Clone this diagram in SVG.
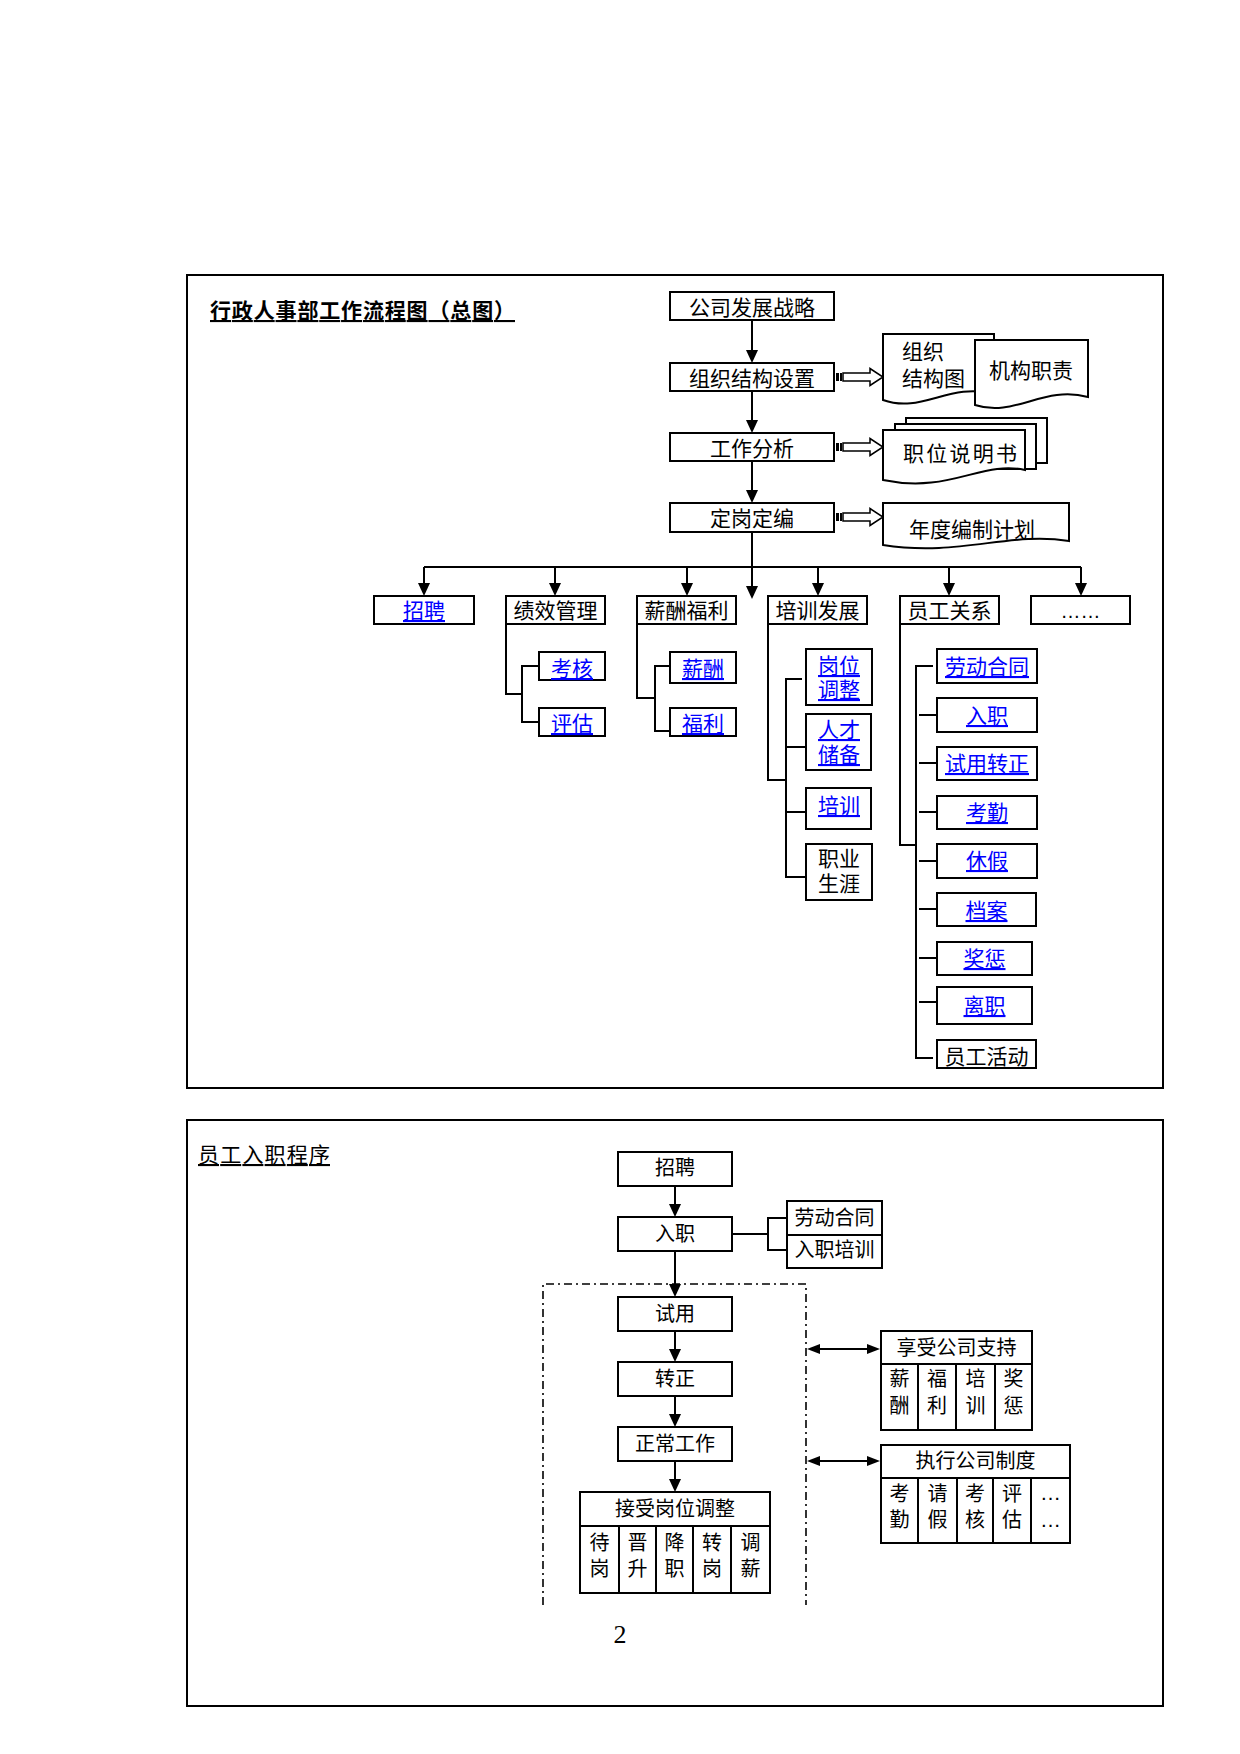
<svg xmlns="http://www.w3.org/2000/svg" width="1240" height="1754" viewBox="0 0 1240 1754">
<defs>
<style>
text{font-family:"Liberation Sans","Noto Sans CJK SC",sans-serif;font-size:21px;fill:#000}
.c{text-anchor:middle}
.s20{font-size:20px}
.lk{fill:#0000FF;text-decoration:underline}
.bx{fill:#fff;stroke:#000;stroke-width:2}
.ln{fill:none;stroke:#000;stroke-width:2}
.fr{fill:none;stroke:#000;stroke-width:2}
.dd{fill:none;stroke:#000;stroke-width:1.6;stroke-dasharray:8 4 2 4}
.blk{fill:#000}
.ba{fill:#fff;stroke:#000;stroke-width:1.5}
</style>
<marker id="arr" viewBox="0 0 13 12" refX="9" refY="6" markerWidth="13" markerHeight="12" markerUnits="userSpaceOnUse" orient="auto"><path d="M0,0 L13,6 L0,12 Z" fill="#000"/></marker>
<marker id="arr2" viewBox="0 0 13 10" refX="9" refY="5" markerWidth="13" markerHeight="10" markerUnits="userSpaceOnUse" orient="auto-start-reverse"><path d="M0,0 L13,5 L0,10 Z" fill="#000"/></marker>
</defs>
<rect width="1240" height="1754" fill="#fff"/>

<!-- ===== TOP SECTION ===== -->
<rect class="fr" x="187" y="275" width="976" height="813"/>
<text x="210" y="318" font-weight="bold" textLength="305" lengthAdjust="spacing" style="text-decoration:underline">行政人事部工作流程图（总图）</text>

<g id="connectors-top" class="ln">
<line x1="752" y1="320" x2="752" y2="359" marker-end="url(#arr)"/>
<line x1="752" y1="391" x2="752" y2="429" marker-end="url(#arr)"/>
<line x1="752" y1="461" x2="752" y2="499" marker-end="url(#arr)"/>
<line x1="752" y1="532" x2="752" y2="595" marker-end="url(#arr)"/>
<line x1="424" y1="567" x2="1081" y2="567"/>
<line x1="424" y1="567" x2="424" y2="592" marker-end="url(#arr)"/>
<line x1="555" y1="567" x2="555" y2="592" marker-end="url(#arr)"/>
<line x1="687" y1="567" x2="687" y2="592" marker-end="url(#arr)"/>
<line x1="818" y1="567" x2="818" y2="592" marker-end="url(#arr)"/>
<line x1="949" y1="567" x2="949" y2="592" marker-end="url(#arr)"/>
<line x1="1081" y1="567" x2="1081" y2="592" marker-end="url(#arr)"/>
<path d="M506,624 V694 H522"/>
<path d="M539,666 H522 V722 H539"/>
<path d="M637,624 V698 H655"/>
<path d="M670,666 H655 V731 H670"/>
<path d="M768,624 V780 H786"/>
<path d="M786,680 V877 H806"/>
<path d="M785,679 H802"/>
<path d="M786,747 H806"/>
<path d="M786,812 H806"/>
<path d="M900,624 V845 H916"/>
<path d="M933,666 H916 V1058 H933"/>
<path d="M919,715 H936 M919,763 H936 M919,812 H936 M919,861 H936 M919,909 H936 M919,958 H936 M919,1002 H936"/>
<g id="block-arrows" stroke="none">
<rect class="blk" x="836" y="373" width="3" height="8"/><rect class="blk" x="840" y="373" width="2" height="8"/>
<path class="ba" d="M843,373 H870 V368.5 L883,377 L870,385.5 V381 H843 Z"/>
<rect class="blk" x="836" y="443" width="3" height="8"/><rect class="blk" x="840" y="443" width="2" height="8"/>
<path class="ba" d="M843,443 H870 V438.5 L883,447 L870,455.5 V451 H843 Z"/>
<rect class="blk" x="836" y="513" width="3" height="8"/><rect class="blk" x="840" y="513" width="2" height="8"/>
<path class="ba" d="M843,513 H870 V508.5 L883,517 L870,525.5 V521 H843 Z"/>
</g>
</g>

<g id="n-strategy"><rect class="bx" x="670" y="292" width="164" height="28"/><text class="c" x="752" y="315">公司发展战略</text></g>
<g id="n-org"><rect class="bx" x="670" y="363" width="164" height="28"/><text class="c" x="752" y="386">组织结构设置</text></g>
<g id="n-jobanalysis"><rect class="bx" x="670" y="433" width="164" height="28"/><text class="c" x="752" y="456">工作分析</text></g>
<g id="n-staffing"><rect class="bx" x="670" y="503" width="164" height="29"/><text class="c" x="752" y="526">定岗定编</text></g>

<g id="n-orgchart"><path class="bx" d="M883,334 H994 V394 C949,382 922,414 883,400 Z"/><text x="902" y="359">组织</text><text x="902" y="386">结构图</text></g>
<g id="n-duty"><path class="bx" d="M975,340 H1088 V397 C1043,385 1015,418 975,405 Z"/><text class="c" x="1031" y="378">机构职责</text></g>
<g id="n-jd"><rect class="bx" x="906" y="418" width="141" height="45"/><rect class="bx" x="895" y="424" width="141" height="45"/><path class="bx" d="M883,430 H1025 V470 C982,460 950,494 883,480 Z"/><text class="c" x="960" y="461" textLength="114" lengthAdjust="spacing">职位说明书</text></g>
<g id="n-plan"><path class="bx" d="M883,503 H1069 V541 C1010,531 960,557 883,545 Z"/><text class="c" x="972" y="537">年度编制计划</text></g>

<g id="n-recruit"><rect class="bx" x="374" y="596" width="100" height="28"/><text class="c lk" x="424" y="618">招聘</text></g>
<g id="n-perf"><rect class="bx" x="506" y="596" width="99" height="28"/><text class="c" x="555.5" y="618">绩效管理</text></g>
<g id="n-comp"><rect class="bx" x="637" y="596" width="99" height="28"/><text class="c" x="686.5" y="618">薪酬福利</text></g>
<g id="n-train"><rect class="bx" x="768" y="596" width="99" height="28"/><text class="c" x="817.5" y="618">培训发展</text></g>
<g id="n-rel"><rect class="bx" x="900" y="596" width="99" height="28"/><text class="c" x="949.5" y="618">员工关系</text></g>
<g id="n-more"><rect class="bx" x="1031" y="596" width="99" height="28"/><text class="c s20" x="1080.5" y="618">……</text></g>

<g id="n-appraisal"><rect class="bx" x="539" y="652" width="66" height="28"/><text class="c lk" x="572" y="676">考核</text></g>
<g id="n-evaluate"><rect class="bx" x="539" y="708" width="66" height="28"/><text class="c lk" x="572" y="731">评估</text></g>
<g id="n-salary"><rect class="bx" x="670" y="652" width="66" height="31"/><text class="c lk" x="703" y="676">薪酬</text></g>
<g id="n-welfare"><rect class="bx" x="670" y="708" width="66" height="28"/><text class="c lk" x="703" y="731">福利</text></g>

<g id="n-postadj"><rect class="bx" x="806" y="649" width="66" height="56"/><text class="c lk" x="839" y="673">岗位</text><text class="c lk" x="839" y="697">调整</text></g>
<g id="n-talent"><rect class="bx" x="806" y="714" width="65" height="56"/><text class="c lk" x="839" y="737">人才</text><text class="c lk" x="839" y="762">储备</text></g>
<g id="n-training"><rect class="bx" x="806" y="788" width="65" height="41"/><text class="c lk" x="839" y="813">培训</text></g>
<g id="n-career"><rect class="bx" x="806" y="844" width="66" height="56" stroke-width="3"/><text class="c" x="839" y="866">职业</text><text class="c" x="839" y="891">生涯</text></g>

<g id="n-contract"><rect class="bx" x="937" y="649" width="100" height="34"/><text class="c lk" x="987" y="674">劳动合同</text></g>
<g id="n-onboard"><rect class="bx" x="937" y="698" width="100" height="34"/><text class="c lk" x="987" y="723">入职</text></g>
<g id="n-probation"><rect class="bx" x="937" y="747" width="100" height="33"/><text class="c lk" x="987" y="771">试用转正</text></g>
<g id="n-attend"><rect class="bx" x="937" y="796" width="100" height="33"/><text class="c lk" x="987" y="820">考勤</text></g>
<g id="n-leave"><rect class="bx" x="937" y="844" width="100" height="34"/><text class="c lk" x="987" y="868">休假</text></g>
<g id="n-archive"><rect class="bx" x="937" y="893" width="99" height="33"/><text class="c lk" x="986.5" y="918">档案</text></g>
<g id="n-reward"><rect class="bx" x="937" y="942" width="95" height="33"/><text class="c lk" x="984.5" y="966">奖惩</text></g>
<g id="n-resign"><rect class="bx" x="937" y="987" width="95" height="37"/><text class="c lk" x="984.5" y="1013">离职</text></g>
<g id="n-activity"><rect class="bx" x="937" y="1040" width="99" height="28"/><text class="c" x="986.5" y="1064">员工活动</text></g>

<!-- ===== LOWER SECTION ===== -->
<rect class="fr" x="187" y="1120" width="976" height="586"/>
<text x="198" y="1162" textLength="132" lengthAdjust="spacing" style="text-decoration:underline">员工入职程序</text>

<g id="connectors-bottom" class="ln">
<line x1="675" y1="1186" x2="675" y2="1213" marker-end="url(#arr)"/>
<line x1="675" y1="1251" x2="675" y2="1293" marker-end="url(#arr)"/>
<line x1="675" y1="1331" x2="675" y2="1358" marker-end="url(#arr)"/>
<line x1="675" y1="1396" x2="675" y2="1423" marker-end="url(#arr)"/>
<line x1="675" y1="1461" x2="675" y2="1488" marker-end="url(#arr)"/>
<path d="M732,1234 H768"/>
<path d="M787,1218 H768 V1250 H787"/>
<line x1="811" y1="1349" x2="876" y2="1349" marker-start="url(#arr2)" marker-end="url(#arr2)"/>
<line x1="811" y1="1461" x2="876" y2="1461" marker-start="url(#arr2)" marker-end="url(#arr2)"/>
<path class="dd" d="M543,1605 V1284 H806 V1605"/>
</g>

<g id="b-recruit"><rect class="bx" x="618" y="1152" width="114" height="34"/><text class="c s20" x="675" y="1175">招聘</text></g>
<g id="b-onboard"><rect class="bx" x="618" y="1217" width="114" height="34"/><text class="c s20" x="675" y="1241">入职</text></g>
<g id="b-contract"><rect class="bx" x="787" y="1201" width="95" height="34"/><text class="c s20" x="834.5" y="1225">劳动合同</text></g>
<g id="b-induction"><rect class="bx" x="787" y="1235" width="95" height="33"/><text class="c s20" x="834.5" y="1257">入职培训</text></g>
<g id="b-trial"><rect class="bx" x="618" y="1297" width="114" height="34"/><text class="c s20" x="675" y="1321">试用</text></g>
<g id="b-regular"><rect class="bx" x="618" y="1362" width="114" height="34"/><text class="c s20" x="675" y="1386">转正</text></g>
<g id="b-work"><rect class="bx" x="618" y="1427" width="114" height="34"/><text class="c s20" x="675" y="1451">正常工作</text></g>

<g id="b-adjust">
<rect class="bx" x="580" y="1492" width="190" height="101"/>
<path class="ln" d="M580,1526 H770 M619,1526 V1593 M656,1526 V1593 M693,1526 V1593 M731,1526 V1593"/>
<text class="c s20" x="675" y="1516">接受岗位调整</text>
<text class="c s20" x="599.5" y="1550">待</text><text class="c s20" x="599.5" y="1576">岗</text>
<text class="c s20" x="637.5" y="1550">晋</text><text class="c s20" x="637.5" y="1576">升</text>
<text class="c s20" x="674.5" y="1550">降</text><text class="c s20" x="674.5" y="1576">职</text>
<text class="c s20" x="712" y="1550">转</text><text class="c s20" x="712" y="1576">岗</text>
<text class="c s20" x="750.5" y="1550">调</text><text class="c s20" x="750.5" y="1576">薪</text>
</g>

<g id="b-support">
<rect class="bx" x="881" y="1331" width="151" height="99"/>
<path class="ln" d="M881,1364 H1032 M918,1364 V1430 M956,1364 V1430 M995,1364 V1430"/>
<text class="c s20" x="956.5" y="1355">享受公司支持</text>
<text class="c s20" x="899.5" y="1386">薪</text><text class="c s20" x="899.5" y="1413">酬</text>
<text class="c s20" x="937" y="1386">福</text><text class="c s20" x="937" y="1413">利</text>
<text class="c s20" x="975.5" y="1386">培</text><text class="c s20" x="975.5" y="1413">训</text>
<text class="c s20" x="1013.5" y="1386">奖</text><text class="c s20" x="1013.5" y="1413">惩</text>
</g>

<g id="b-rules">
<rect class="bx" x="881" y="1445" width="189" height="98"/>
<path class="ln" d="M881,1478 H1070 M918,1478 V1543 M957,1478 V1543 M993,1478 V1543 M1031,1478 V1543"/>
<text class="c s20" x="975.5" y="1468">执行公司制度</text>
<text class="c s20" x="899.5" y="1501">考</text><text class="c s20" x="899.5" y="1527">勤</text>
<text class="c s20" x="937.5" y="1501">请</text><text class="c s20" x="937.5" y="1527">假</text>
<text class="c s20" x="975" y="1501">考</text><text class="c s20" x="975" y="1527">核</text>
<text class="c s20" x="1012" y="1501">评</text><text class="c s20" x="1012" y="1527">估</text>
<text class="c" x="1050.5" y="1500" font-size="18">…</text><text class="c" x="1050.5" y="1527" font-size="18">…</text>
</g>

<text x="620" y="1643" text-anchor="middle" style="font-family:'Liberation Serif',serif;font-size:26px">2</text>
</svg>
